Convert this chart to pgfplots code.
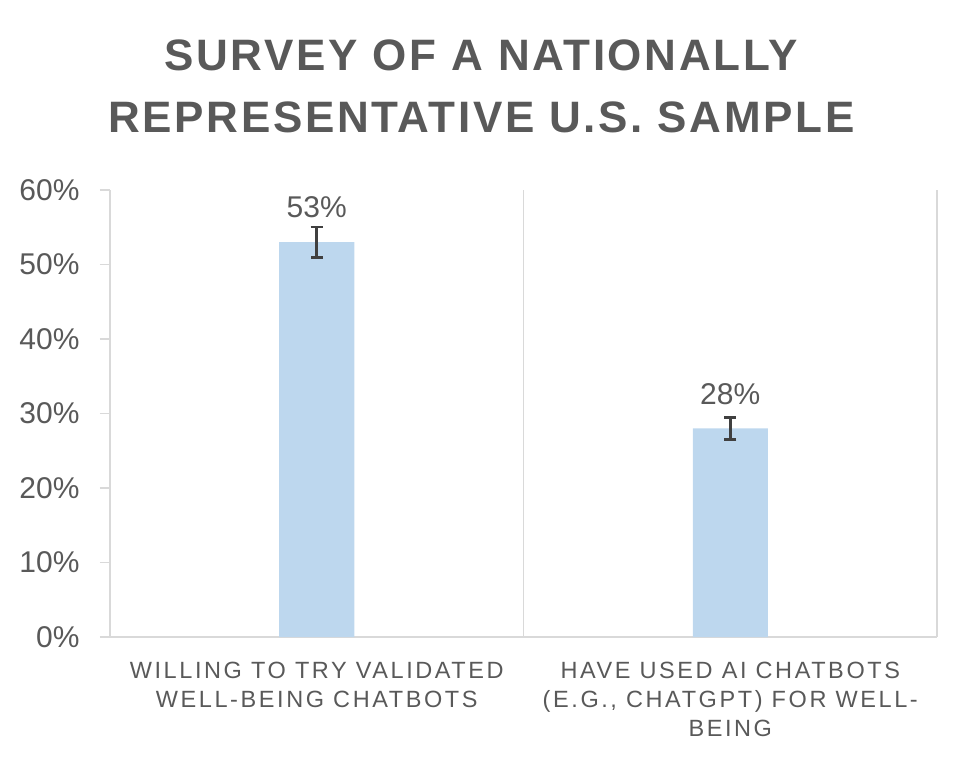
\documentclass[border=0pt]{standalone}
\usepackage{pgfplots}
\pgfplotsset{compat=1.18}
\usepackage{fontspec}
\setmainfont{Liberation Sans}
\newfontfamily\titlefont[LetterSpace=6.0]{Liberation Sans}
\newfontfamily\catfont[LetterSpace=11.0]{Liberation Sans}
\definecolor{txtgray}{HTML}{595959}
\definecolor{barblue}{HTML}{BDD7EE}
\definecolor{linegray}{HTML}{D9D9D9}
\definecolor{errgray}{HTML}{404040}
\begin{document}
\begin{tikzpicture}
\useasboundingbox (-110pt,-121pt) rectangle (852pt,637pt);
\begin{axis}[
  at={(0,0)}, anchor=south west,
  scale only axis,
  width=827pt, height=447pt,
  xmin=-0.5, xmax=1.5,
  ymin=0, ymax=60,
  axis x line*=bottom,
  axis y line*=left,
  axis line style={linegray, line width=1.6pt},
  xtick={0,1},
  xticklabels={{WILLING TO TRY VALIDATED\\WELL-BEING CHATBOTS},{HAVE USED AI CHATBOTS\\(E.G., CHATGPT) FOR WELL-\\BEING}},
  xticklabel style={align=center, font=\catfont\fontsize{23.5}{29}\selectfont, text=txtgray, yshift=-12pt},
  xtick style={draw=none},
  ytick={0,10,20,30,40,50,60},
  yticklabel={\pgfmathprintnumber{\tick}\%},
  yticklabel style={font=\fontsize{30}{34}\selectfont, text=txtgray, xshift=-17pt},
  /pgf/number format/assume math mode=true,
  ytick style={linegray, line width=1.6pt},
  tick align=outside,
  major tick length=10pt,
  extra x ticks={0.5,1.5},
  extra x tick labels={},
  extra x tick style={grid=major, major grid style={linegray, line width=1.6pt}, tick style={draw=none}},
  clip=false,
]
\addplot[ybar, bar width=75pt, fill=barblue, draw=none,
  error bars/.cd, y dir=both, y explicit,
  error bar style={errgray, line width=2.6pt},
  error mark options={errgray, line width=2.6pt, mark size=6pt, rotate=90}]
  coordinates {(0,53) +- (0,2.05) (1,28) +- (0,1.5)};
\addplot[draw=none, nodes near coords={\pgfmathprintnumber{\pgfplotspointmeta}\%},
  nodes near coords style={font=\fontsize{30}{34}\selectfont, text=txtgray, anchor=south, yshift=20.5pt}]
  coordinates {(0,53) (1,28)};
\node[font=\titlefont\bfseries\fontsize{44}{62}\selectfont, text=txtgray, align=center, anchor=center]
  at ([yshift=104pt]rel axis cs:0.449,1) {SURVEY OF A NATIONALLY\\REPRESENTATIVE U.S. SAMPLE};
\end{axis}
\end{tikzpicture}
\end{document}
